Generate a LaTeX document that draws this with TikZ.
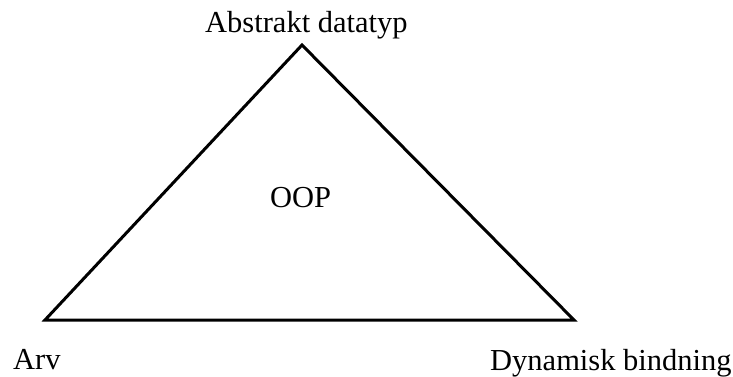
\documentclass[tikz,border=0pt]{standalone}
\usepackage{fontspec}
\setmainfont{Liberation Serif}
\begin{document}
\begin{tikzpicture}[x=1pt,y=-1pt,
  lbl/.style={inner sep=0pt,anchor=base west,font=\fontsize{30.5}{36}\selectfont},
  edge/.style={line width=3pt,line join=miter}]
\useasboundingbox (0,0) rectangle (733,376);
\coordinate (top) at (302,45);
\coordinate (bl) at (45,320);
\coordinate (br) at (574,320);
\draw[edge] (top) -- (bl) -- (br) -- cycle;
\node[lbl] (adt) at (205,32) {Abstrakt datatyp};
\node[lbl] (oop) at (270,207) {OOP};
\node[lbl] (arv) at (13,369) {Arv};
\node[lbl] (dyn) at (490,370) {Dynamisk bindning};
\end{tikzpicture}
\end{document}
